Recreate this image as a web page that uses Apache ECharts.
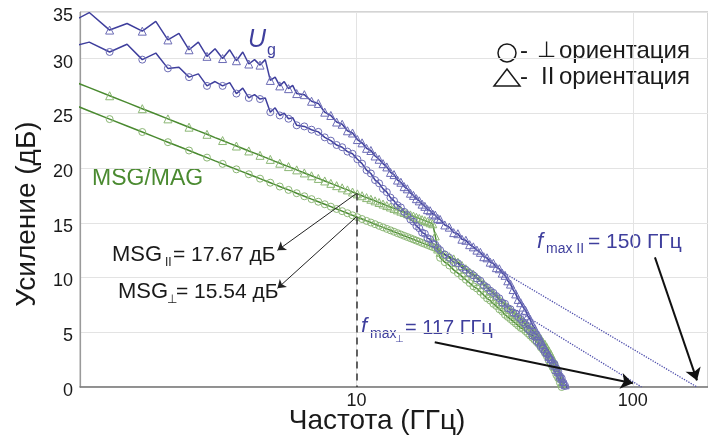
<!DOCTYPE html>
<html>
<head>
<meta charset="utf-8">
<script src="https://cdn.jsdelivr.net/npm/echarts@6/dist/echarts.min.js"></script>
<style>
  html, body { margin: 0; padding: 0; background: #fff; }
  #chart { width: 708px; height: 437px; }
</style>
</head>
<body>
<div id="chart"></div>
<script>
// frequency grid, GHz: 0.2 GHz steps up to 5.88 (marker on every other point), then coarser
const freq = [
  0.88, 1.08, 1.28, 1.48, 1.68, 1.88, 2.08, 2.28, 2.48, 2.68, 2.88, 3.08, 3.28,
  3.48, 3.68, 3.88, 4.08, 4.28, 4.48, 4.68, 4.88, 5.08, 5.28, 5.48, 5.68, 5.88,
  6.08, 6.48, 6.88, 7.28, 7.68, 8.08, 8.48, 8.88, 9.28, 9.68, 10.08, 10.48, 10.88,
  11.28, 11.68, 12.08, 12.48, 12.88, 13.28, 13.68, 14.08, 14.48, 14.88, 15.28,
  15.68, 16.08, 16.48, 16.88, 17.28, 17.68, 18.08, 18.48, 18.88, 19.28, 19.68, 20.08,
  20.88, 21.68, 22.48, 23.28, 24.08, 24.88, 25.68, 26.48, 27.28, 28.08, 28.88,
  29.68, 30.48, 31.28, 32.08, 32.88, 33.68, 34.48, 35.28, 36.08, 36.88, 37.68,
  38.48, 39.28, 40.08, 40.88, 41.68, 42.48, 43.28, 44.08, 44.88, 45.68, 46.48,
  47.28, 48.08, 48.88, 49.68, 50.48, 51.28, 52.08, 52.88, 53.68, 54.48, 55.28,
  56.08, 56.88, 57.68
]
const LOW_N = 26

// Ug, parallel orientation (triangles)
const ugPar = [
  33.0, 34.2, 32.6, 33.2, 32.5, 33.4, 31.7, 32.3, 30.8, 31.5, 30.2, 30.9, 30.0,
  30.8, 29.8, 30.6, 29.5, 29.9, 29.4, 29.9, 28.0, 28.3, 27.5, 27.9, 27.25, 27.55,
  26.8, 26.7, 26.1, 25.9, 25.1, 24.8, 24.2, 24.0, 23.4, 23.2, 22.6, 22.3, 21.8,
  21.6, 21.1, 20.8, 20.4, 20.1, 19.6, 19.4, 18.9, 18.7, 18.3, 18.1,
  17.7, 17.5, 17.2, 17.0, 16.7, 16.5, 16.2, 16.1, 15.8, 15.7, 15.4, 15.3,
  14.8, 14.6, 14.1, 14.0, 13.5, 13.4, 13.0, 12.8, 12.5, 12.3, 11.9,
  11.8, 11.4, 11.3, 10.9, 10.8, 10.4, 10.2, 9.7, 9.4, 8.9, 8.5,
  8.0, 7.7, 7.3, 7.0, 6.5, 6.2, 5.7, 5.4, 4.9, 4.7, 4.2,
  3.9, 3.5, 3.2, 2.8, 2.6, 2.2, 2.0, 1.6, 1.4, 1.0, 0.8,
  0.5, 0.2, -0.1
]
// Ug, perpendicular orientation (circles)
const ugPerp = [
  30.9, 31.5, 30.6, 31.3, 29.9, 30.5, 29.1, 29.2, 28.3, 28.6, 27.5, 27.9, 27.5,
  27.8, 26.8, 27.3, 26.4, 26.7, 26.3, 26.4, 25.1, 25.5, 24.8, 25.0, 24.5, 24.6,
  23.9, 23.8, 23.5, 23.3, 22.8, 22.5, 22.1, 21.9, 21.5, 21.3, 20.8, 20.4, 19.8,
  19.5, 18.9, 18.6, 18.1, 17.8, 17.3, 17.0, 16.6, 16.4, 16.0, 15.7,
  15.3, 15.1, 14.7, 14.5, 14.1, 14.0, 13.6, 13.5, 13.1, 13.0, 12.7, 12.5,
  12.1, 11.8, 11.4, 11.3, 10.9, 10.7, 10.4, 10.2, 9.9, 9.7, 9.3,
  9.1, 8.8, 8.6, 8.3, 8.1, 7.7, 7.6, 7.2, 7.1, 6.8, 6.7,
  6.4, 6.2, 5.9, 5.7, 5.3, 5.1, 4.7, 4.6, 4.2, 4.0, 3.7,
  3.5, 3.2, 3.0, 2.7, 2.5, 2.2, 2.1, 1.7, 1.4, 1.0, 0.8,
  0.4, 0.1, null
]
// MSG/MAG, parallel orientation (triangles)
const msgPar = [
  28.23, 27.34, 26.60, 25.97, 25.42, 24.93, 24.49, 24.09, 23.73, 23.39, 23.08, 22.78, 22.51,
  22.25, 22.01, 21.78, 21.56, 21.36, 21.16, 20.97, 20.79, 20.61, 20.44, 20.28, 20.13, 19.98,
  19.83, 19.55, 19.29, 19.05, 18.82, 18.60, 18.39, 18.19, 18.00, 17.81, 17.64, 17.47, 17.30,
  17.15, 17.00, 16.85, 16.71, 16.57, 16.44, 16.31, 16.18, 16.06, 15.94, 15.83,
  15.72, 15.61, 15.50, 15.40, 15.29, 15.20, 15.10, 15.00, 14.91, 13.8, 12.6, 12.3,
  12.1, 11.9, 11.7, 11.4, 11.1, 10.8, 10.5, 10.3, 10.0, 9.7, 9.4,
  9.1, 8.8, 8.6, 8.3, 8.0, 7.8, 7.5, 7.3, 7.1, 6.8, 6.6,
  6.4, 6.2, 6.0, 5.8, 5.6, 5.4, 5.2, 5.0, 4.8, 4.6, 4.4,
  4.1, 3.9, 3.6, 3.3, 3.0, 2.6, 2.3, 1.9, 1.5, 1.0, 0.4,
  -0.2, null, null
]
// MSG/MAG, perpendicular orientation (circles)
const msgPerp = [
  26.10, 25.21, 24.47, 23.84, 23.29, 22.80, 22.36, 21.96, 21.60, 21.26, 20.95, 20.65, 20.38,
  20.12, 19.88, 19.65, 19.43, 19.23, 19.03, 18.84, 18.66, 18.48, 18.31, 18.15, 18.00, 17.85,
  17.70, 17.42, 17.16, 16.92, 16.69, 16.47, 16.26, 16.06, 15.87, 15.68, 15.51, 15.34, 15.17,
  15.02, 14.87, 14.72, 14.58, 14.44, 14.31, 14.18, 14.05, 13.93, 13.81, 13.70,
  13.59, 13.48, 13.37, 13.27, 13.16, 13.07, 12.97, 12.87, 12.78, 12.69, 12.60, 11.8,
  11.4, 11.1, 10.7, 10.4, 10.1, 9.8, 9.5, 9.2, 9.0, 8.7, 8.4,
  8.1, 7.9, 7.6, 7.4, 7.1, 6.9, 6.6, 6.4, 6.2, 6.0, 5.8,
  5.6, 5.4, 5.3, 5.1, 4.9, 4.7, 4.5, 4.3, 4.1, 3.9, 3.6,
  3.4, 3.1, 2.8, 2.4, 2.1, 1.8, 1.5, 1.1, 0.8, 0.4, 0.0,
  null, null, null
]

// extrapolations of Ug down to fmax
const fitPar = [[33.8, 10.5], [170.6, 0]]
const fitPerp = [[38, 7.0], [107.5, 0]]

// annotation points [f, dB]
const msgMarkPar = [10, 17.67]
const msgMarkPerp = [10, 15.54]
const msgLabelPar = [5.18, 12.48]
const msgLabelPerp = [5.18, 9.01]
const fmaxPerpArrow = [[19.2, 4.08], [100, 0.34]]
const fmaxParArrow = [[120.2, 11.84], [170.6, 0.6]]

const xTickLabels = [10, 100]
const yTickLabels = [0, 5, 10, 15, 20, 25, 30, 35]

const BLUE = '#3f3f9d'
const BLUE_MK = '#6b6bb5'
const GREEN = '#4a8a30'
const GREEN_MK = '#8cb775'
const FONT = '"Liberation Sans", "DejaVu Sans", Arial, sans-serif'

function toData(vals) {
  const out = []
  vals.forEach((v, i) => {
    if (v === null) return
    const item = { value: [freq[i], v] }
    if (i < LOW_N && i % 2 === 1) item.symbol = 'none'
    out.push(item)
  })
  return out
}

function curve(vals, sym, lineColor, markColor) {
  return {
    type: 'line', data: toData(vals),
    symbol: sym, symbolSize: sym === 'triangle' ? 8 : 7, showAllSymbol: true,
    lineStyle: { color: lineColor, width: 1.5 },
    itemStyle: { color: 'rgba(255,255,255,0)', borderColor: markColor, borderWidth: 1 },
    emphasis: { disabled: true }, silent: true,
  }
}

// text element; `style` tweaks go in extra, element props (rotation) in el
function txt(x, y, text, size, color, extra, el) {
  return Object.assign({
    type: 'text', x, y, silent: true,
    style: Object.assign({
      text, fontSize: size, fontFamily: FONT, fill: color || '#1a1a1a',
      align: 'left', verticalAlign: 'middle',
    }, extra || {}),
  }, el || {})
}

const chart = echarts.init(document.getElementById('chart'), null, { renderer: 'canvas' })

chart.setOption({
  backgroundColor: '#fff',
  animation: false,
  grid: {
    left: 80, right: 0, top: 12, bottom: 50,
    show: true, borderColor: '#a8a8a8', borderWidth: 1,
    containLabel: false, outerBoundsMode: 'none',
  },
  xAxis: {
    type: 'log', logBase: 10, min: 1, max: 187,
    axisLine: { show: true, lineStyle: { color: '#7a7a7a', width: 1.5 } },
    axisTick: { show: false },
    axisLabel: {
      color: '#1a1a1a', fontSize: 18, fontFamily: FONT, margin: 5,
      formatter: (v) => {
        const hit = xTickLabels.find((t) => Math.abs(v - t) / t < 0.01)
        return hit ? String(hit) : ''
      },
    },
    splitLine: { show: true, lineStyle: { color: '#e3e3e3' } },
  },
  yAxis: {
    type: 'value', min: 0, max: 34.25, interval: 5,
    axisLine: { show: true, lineStyle: { color: '#9a9a9a', width: 1.2 } },
    axisTick: { show: false },
    axisLabel: {
      color: '#1a1a1a', fontSize: 18, fontFamily: FONT, margin: 7,
      verticalAlign: 'top', lineHeight: 8,
      formatter: (v) => (v > 31 ? String(yTickLabels[7]) : String(yTickLabels[Math.round(v / 5)])),
    },
    splitLine: { show: true, lineStyle: { color: '#e3e3e3' } },
  },
  series: [
    curve(msgPerp, 'circle', GREEN, GREEN_MK),
    curve(msgPar, 'triangle', GREEN, GREEN_MK),
    curve(ugPerp, 'circle', BLUE, BLUE_MK),
    curve(ugPar, 'triangle', BLUE, BLUE_MK),
    {
      type: 'line', data: fitPar, symbol: 'none', silent: true,
      lineStyle: { color: '#5050ad', width: 1.3, type: 'dotted' },
    },
    {
      type: 'line', data: fitPerp, symbol: 'none', silent: true,
      lineStyle: { color: '#5050ad', width: 1.3, type: 'dotted' },
      markLine: {
        silent: true, animation: false, label: { show: false },
        symbol: ['none', 'arrow'],
        data: [
          [{ coord: msgMarkPar, symbol: 'none', lineStyle: { color: '#222', width: 1, type: 'solid' } },
           { coord: msgLabelPar, symbol: 'arrow', symbolSize: 8 }],
          [{ coord: msgMarkPerp, symbol: 'none', lineStyle: { color: '#222', width: 1, type: 'solid' } },
           { coord: msgLabelPerp, symbol: 'arrow', symbolSize: 8 }],
          [{ coord: msgMarkPar, symbol: 'none', lineStyle: { color: '#333', width: 1.5, type: [7, 5] } },
           { coord: [10, 0], symbol: 'none' }],
          [{ coord: fmaxPerpArrow[0], symbol: 'none', lineStyle: { color: '#111', width: 2, type: 'solid' } },
           { coord: fmaxPerpArrow[1], symbol: 'arrow', symbolSize: 12 }],
          [{ coord: fmaxParArrow[0], symbol: 'none', lineStyle: { color: '#111', width: 2, type: 'solid' } },
           { coord: fmaxParArrow[1], symbol: 'arrow', symbolSize: 12 }],
        ],
      },
    },
  ],
  graphic: {
    elements: [
      txt(27, 214, 'Усиление (дБ)', 28, '#1a1a1a', { align: 'center' }, { rotation: Math.PI / 2 }),
      txt(377, 421, 'Частота (ГГц)', 28, '#1a1a1a', { align: 'center' }),
      // Ug label
      txt(248, 40, 'U', 25, BLUE, { fontStyle: 'italic' }),
      txt(267, 51, 'g', 16, BLUE),
      txt(92, 179, 'MSG/MAG', 23, GREEN),
      // orientation legend
      { type: 'circle', silent: true, shape: { cx: 507, cy: 53, r: 9 },
        style: { fill: 'none', stroke: '#1a1a1a', lineWidth: 1.5 } },
      { type: 'polygon', silent: true, shape: { points: [[494, 86], [520, 86], [507, 69]] },
        style: { fill: 'none', stroke: '#1a1a1a', lineWidth: 1.5 } },
      txt(520, 51, '-', 24),
      txt(537, 51, '⊥', 22),
      txt(559, 51, 'ориентация', 24),
      txt(520, 77, '-', 24),
      txt(541, 77, 'II', 24),
      txt(559, 77, 'ориентация', 24),
      // MSG values
      txt(112, 255, 'MSG', 22),
      txt(165, 263, 'II', 12),
      txt(173, 255, '= 17.67 дБ', 21),
      txt(118, 292, 'MSG', 22),
      txt(167, 300, '⊥', 12),
      txt(176, 292, '= 15.54 дБ', 21),
      // fmax labels
      txt(537, 242, 'f', 22, BLUE, { fontStyle: 'italic' }),
      txt(546, 249, 'max II', 14, BLUE),
      txt(588, 242, '= 150 ГГц', 21, BLUE),
      txt(361, 327, 'f', 22, BLUE, { fontStyle: 'italic' }),
      txt(370, 334, 'max', 14, BLUE),
      txt(395, 339, '⊥', 10, BLUE),
      txt(405, 328, '= 117 ГГц', 20, BLUE),
    ],
  },
})
</script>
</body>
</html>
